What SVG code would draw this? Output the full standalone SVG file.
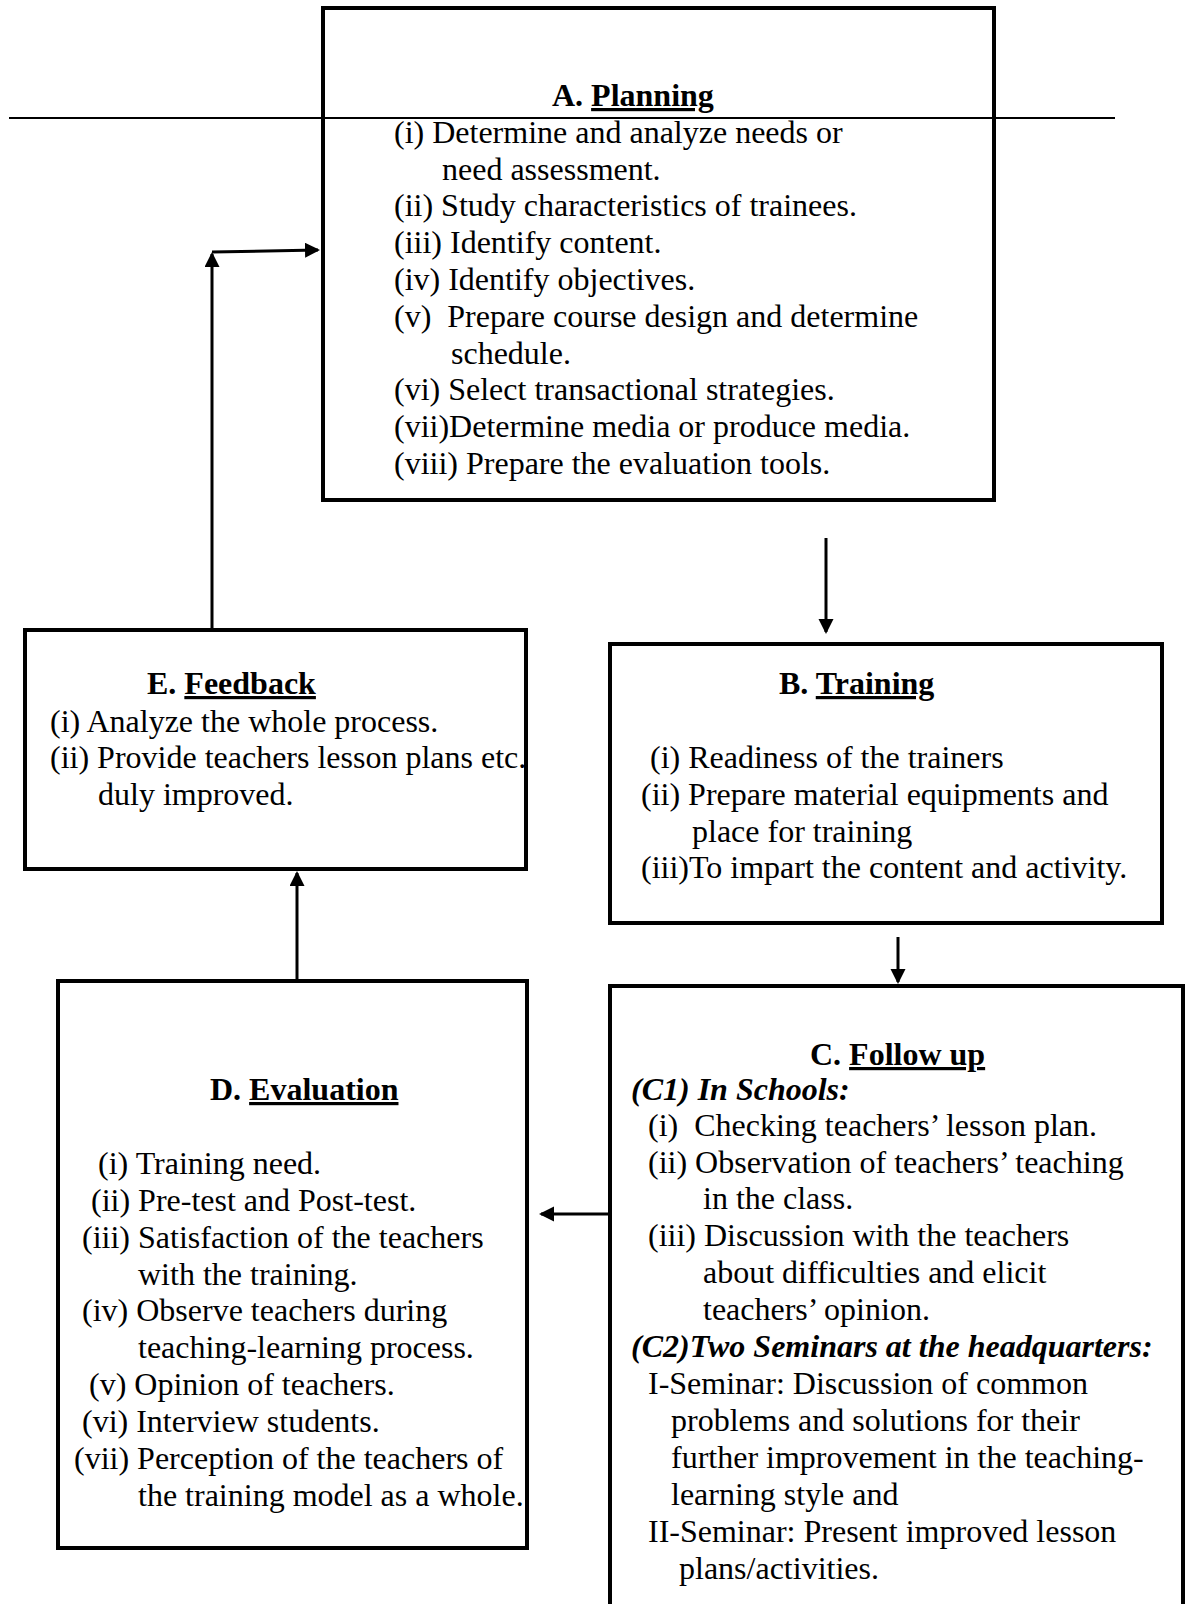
<svg xmlns="http://www.w3.org/2000/svg" width="1185" height="1604" viewBox="0 0 1185 1604">
<style>
.box{fill:none;stroke:#000;stroke-width:4}
.t{font-family:"Liberation Serif","Times New Roman",serif;font-size:32px;fill:#000}
.h{font-weight:bold}
.bi{font-weight:bold;font-style:italic}
.c{fill:none;stroke:#000;stroke-width:3}
</style>
<defs>
<marker id="ah" markerUnits="userSpaceOnUse" markerWidth="16" markerHeight="16" refX="13" refY="7.5" orient="auto">
<path d="M0,0 L15,7.5 L0,15 z" fill="#000"/>
</marker>
</defs>
<rect width="1185" height="1604" fill="#fff"/>
<line x1="9" y1="118" x2="1115" y2="118" stroke="#000" stroke-width="2"/>
<g id="nodeA">
<rect class="box" x="323" y="8" width="671" height="492"/>
<text class="t h" x="552" y="106">A. <tspan text-decoration="underline">Planning</tspan></text>
<text class="t" x="394" y="143">(i) Determine and analyze needs or</text>
<text class="t" x="442" y="180">need assessment.</text>
<text class="t" x="394" y="216">(ii) Study characteristics of trainees.</text>
<text class="t" x="394" y="253">(iii) Identify content.</text>
<text class="t" x="394" y="290">(iv) Identify objectives.</text>
<text class="t" x="394" y="327" xml:space="preserve">(v)  Prepare course design and determine</text>
<text class="t" x="451" y="364">schedule.</text>
<text class="t" x="394" y="400">(vi) Select transactional strategies.</text>
<text class="t" x="394" y="437">(vii)Determine media or produce media.</text>
<text class="t" x="394" y="474">(viii) Prepare the evaluation tools.</text>
</g>
<g id="nodeE">
<rect class="box" x="25" y="630" width="501" height="239"/>
<text class="t h" x="147" y="694">E. <tspan text-decoration="underline">Feedback</tspan></text>
<text class="t" x="50" y="732">(i) Analyze the whole process.</text>
<text class="t" x="50" y="768">(ii) Provide teachers lesson plans etc.</text>
<text class="t" x="98" y="805">duly improved.</text>
</g>
<g id="nodeB">
<rect class="box" x="610" y="644" width="552" height="279"/>
<text class="t h" x="779" y="694">B. <tspan text-decoration="underline">Training</tspan></text>
<text class="t" x="650" y="768">(i) Readiness of the trainers</text>
<text class="t" x="641" y="805">(ii) Prepare material equipments and</text>
<text class="t" x="692" y="842">place for training</text>
<text class="t" x="641" y="878">(iii)To impart the content and activity.</text>
</g>
<g id="nodeD">
<rect class="box" x="58" y="981" width="469" height="567"/>
<text class="t h" x="210" y="1100">D. <tspan text-decoration="underline">Evaluation</tspan></text>
<text class="t" x="98" y="1174">(i) Training need.</text>
<text class="t" x="91" y="1211">(ii) Pre-test and Post-test.</text>
<text class="t" x="82" y="1248">(iii) Satisfaction of the teachers</text>
<text class="t" x="138" y="1285">with the training.</text>
<text class="t" x="82" y="1321">(iv) Observe teachers during</text>
<text class="t" x="138" y="1358">teaching-learning process.</text>
<text class="t" x="89" y="1395">(v) Opinion of teachers.</text>
<text class="t" x="82" y="1432">(vi) Interview students.</text>
<text class="t" x="74" y="1469">(vii) Perception of the teachers of</text>
<text class="t" x="138" y="1506">the training model as a whole.</text>
</g>
<g id="nodeC">
<rect class="box" x="610" y="986" width="573" height="640"/>
<text class="t h" x="810" y="1065">C. <tspan text-decoration="underline">Follow up</tspan></text>
<text class="t bi" x="631" y="1100">(C1) In Schools:</text>
<text class="t" x="648" y="1136" xml:space="preserve">(i)  Checking teachers’ lesson plan.</text>
<text class="t" x="648" y="1173">(ii) Observation of teachers’ teaching</text>
<text class="t" x="703" y="1209">in the class.</text>
<text class="t" x="648" y="1246">(iii) Discussion with the teachers</text>
<text class="t" x="703" y="1283">about difficulties and elicit</text>
<text class="t" x="703" y="1320">teachers’ opinion.</text>
<text class="t bi" x="631" y="1357">(C2)Two Seminars at the headquarters:</text>
<text class="t" x="648" y="1394">I-Seminar: Discussion of common</text>
<text class="t" x="671" y="1431">problems and solutions for their</text>
<text class="t" x="671" y="1468">further improvement in the teaching-</text>
<text class="t" x="671" y="1505">learning style and</text>
<text class="t" x="648" y="1542">II-Seminar: Present improved lesson</text>
<text class="t" x="679" y="1579">plans/activities.</text>
</g>
<g id="connectors">
<line class="c" x1="212" y1="629" x2="212" y2="254" marker-end="url(#ah)"/>
<line class="c" x1="212" y1="252" x2="318" y2="250" marker-end="url(#ah)"/>
<line class="c" x1="826" y1="538" x2="826" y2="632" marker-end="url(#ah)"/>
<line class="c" x1="898" y1="937" x2="898" y2="982" marker-end="url(#ah)"/>
<line class="c" x1="609" y1="1214" x2="541" y2="1214" marker-end="url(#ah)"/>
<line class="c" x1="297" y1="980" x2="297" y2="873" marker-end="url(#ah)"/>
</g>
</svg>
